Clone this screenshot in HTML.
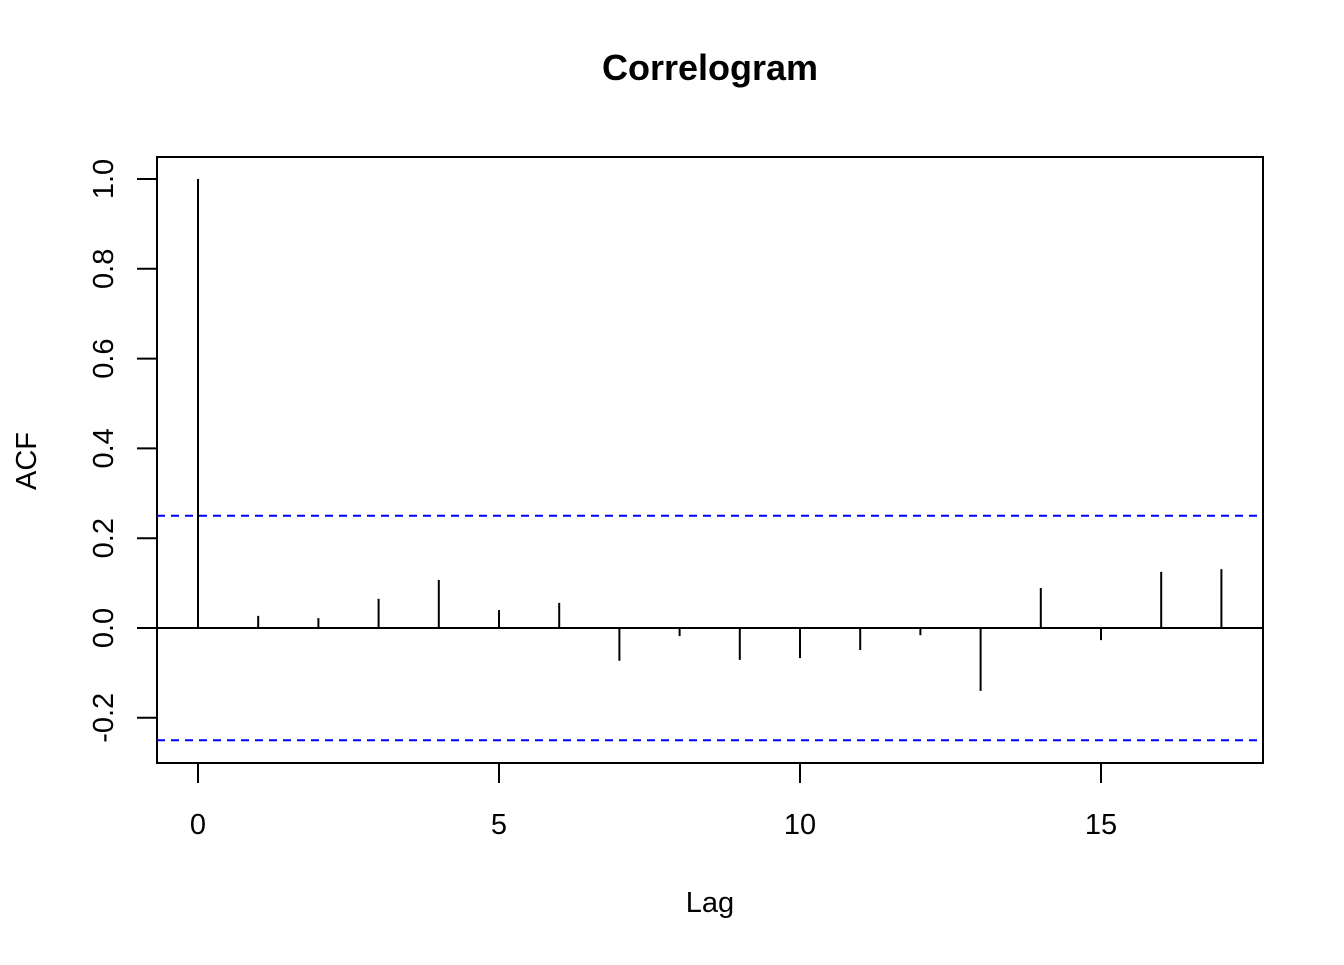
<!DOCTYPE html>
<html><head><meta charset="utf-8"><style>
html,body{margin:0;padding:0;background:#fff;}
svg text{font-family:"Liberation Sans",Arial,sans-serif;fill:#000;}
</style></head><body>
<svg id="chart" width="1344" height="960" xmlns="http://www.w3.org/2000/svg">
<text x="710" y="80" text-anchor="middle" font-size="36" font-weight="bold">Correlogram</text>
<text x="710" y="912" text-anchor="middle" font-size="29">Lag</text>
<text transform="translate(36,461) rotate(-90)" text-anchor="middle" font-size="29">ACF</text>
<rect x="157" y="157" width="1106" height="606" fill="none" stroke="#000" stroke-width="2"/>
<g id="xaxis"></g>
<g id="yaxis"></g>
<g id="marks"></g>
</svg>
<script>
const lags = [0,1,2,3,4,5,6,7,8,9,10,11,12,13,14,15,16,17];
const acfValues = [1.0,0.027,0.022,0.065,0.107,0.04,0.056,-0.073,-0.018,-0.071,-0.067,-0.049,-0.016,-0.14,0.089,-0.027,0.125,0.131];
const ciBound = [0.25];
const xTicks = [0,5,10,15];
const yTicks = [-0.2,0,0.2,0.4,0.6,0.8,1.0];
const yTickLabels = ["-0.2","0.0","0.2","0.4","0.6","0.8","1.0"];

const NS="http://www.w3.org/2000/svg";
const xs = v => 198 + v*60.2;
const ys = v => 628 - v*449;
function mk(tag, attrs, parent){const e=document.createElementNS(NS,tag);for(const k in attrs)e.setAttribute(k,attrs[k]);parent.appendChild(e);return e;}
const xa=document.getElementById('xaxis'), ya=document.getElementById('yaxis'), mg=document.getElementById('marks');
xTicks.forEach(t=>{
  const l=mk('line',{x1:xs(t),x2:xs(t),y1:763,y2:783,stroke:'#000','stroke-width':2},xa);
  
  
  const tx=mk('text',{x:xs(t),y:834,'text-anchor':'middle','font-size':29},xa);
  tx.textContent=t;
  
  
});
yTicks.forEach((t,i)=>{
  const l=mk('line',{x1:137,x2:157,y1:ys(t),y2:ys(t),stroke:'#000','stroke-width':2},ya);
  
  
  const tx=mk('text',{transform:`translate(113,${ys(t)}) rotate(-90)`,'text-anchor':'middle','font-size':29},ya);
  tx.textContent=yTickLabels[i];
  
  
});
const zl=mk('line',{x1:157,x2:1263,y1:ys(0),y2:ys(0),stroke:'#000','stroke-width':2},mg);


[ciBound[0],-ciBound[0]].forEach(c=>{
  const l=mk('line',{x1:157,x2:1263,y1:ys(c),y2:ys(c),stroke:'#0000ff','stroke-width':2,'stroke-dasharray':'8,6'},mg);
  
  
});
lags.forEach((lg,i)=>{
  const l=mk('line',{x1:xs(lg),x2:xs(lg),y1:ys(0),y2:ys(acfValues[i]),stroke:'#000','stroke-width':2},mg);
  
  
});
</script>
</body></html>
